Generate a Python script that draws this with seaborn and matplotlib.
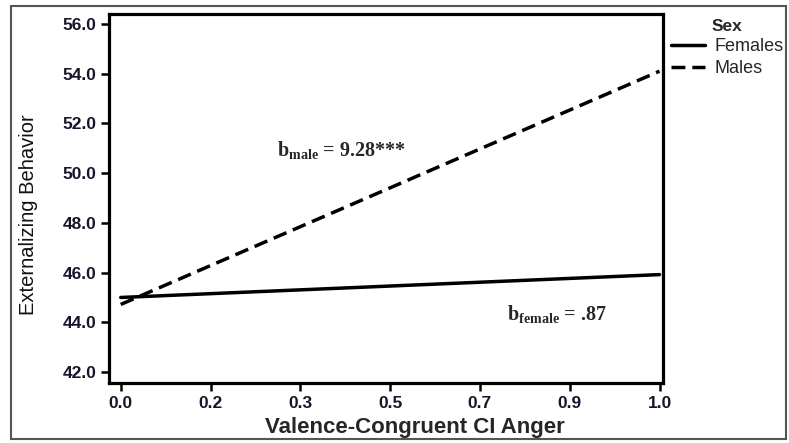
import matplotlib
matplotlib.use("Agg")
import matplotlib.pyplot as plt
import seaborn as sns
import pandas as pd
from matplotlib.patches import Rectangle

# simple slopes
anger = [0.0, 1.0]
females = [45.0, 45.92]
males = [44.72, 54.1]

xtick_pos = [0, 1/6, 2/6, 3/6, 4/6, 5/6, 1]
xtick_labels = ["0.0", "0.2", "0.3", "0.5", "0.7", "0.9", "1.0"]
ytick_pos = [42, 44, 46, 48, 50, 52, 54, 56]

df = pd.DataFrame({
    "anger": anger * 2,
    "ext": females + males,
    "Sex": ["Females"] * 2 + ["Males"] * 2,
})

sns.set_style("white")
plt.rcParams["font.family"] = ["Liberation Sans", "DejaVu Sans"]
plt.rcParams["mathtext.fontset"] = "custom"
plt.rcParams["mathtext.bf"] = "Liberation Serif:bold"
plt.rcParams["mathtext.rm"] = "Liberation Serif:bold"

fig = plt.figure(figsize=(7.89, 4.43), dpi=100)
ax = fig.add_axes([0.138, 0.1354, 0.702, 0.8330])

sns.lineplot(data=df, x="anger", y="ext", hue="Sex", style="Sex",
             palette={"Females": "black", "Males": "black"},
             dashes={"Females": "", "Males": (4, 2)},
             linewidth=2.5, ax=ax)

ax.set_xlim(-0.022, 1.006)
ax.set_ylim(41.56, 56.4)
ax.set_xticks(xtick_pos)
ax.set_xticklabels(xtick_labels)
ax.set_yticks(ytick_pos)
ax.set_yticklabels([f"{v:.1f}" for v in ytick_pos])
ax.tick_params(axis="both", direction="out", length=6, width=1.8,
               color="black", labelsize=12.5, labelcolor="#15152b", pad=3,
               bottom=True, left=True)
for lab in ax.get_xticklabels() + ax.get_yticklabels():
    lab.set_fontweight("bold")
for s in ax.spines.values():
    s.set_linewidth(2.3)
    s.set_color("black")

ax.set_xlabel("Valence-Congruent CI Anger", fontsize=16, fontweight="bold")
ax.xaxis.set_label_coords(0.552, -0.092)
ax.set_ylabel("Externalizing Behavior", fontsize=14.5, color="#111111")
ax.yaxis.set_label_coords(-0.128, 0.457)

ax.text(0.29, 50.9, r"$\mathbf{b}_{\mathbf{male}}$ = 9.28***", fontsize=14.5,
        family="Liberation Serif", fontweight="bold", va="center")
ax.text(0.716, 44.3, r"$\mathbf{b}_{\mathbf{female}}$ = .87", fontsize=14.5,
        family="Liberation Serif", fontweight="bold", va="center")

sns.move_legend(ax, "upper left", bbox_to_anchor=(1.0, 1.009), frameon=False,
                title="Sex", fontsize=13, handlelength=1.9, handletextpad=0.5,
                labelspacing=0.3, borderaxespad=0.0, borderpad=0.45)
leg = ax.get_legend()
leg.get_title().set_fontweight("bold")
leg.get_title().set_fontsize(12.5)
leg._legend_box.sep = 3
for line in leg.get_lines():
    line.set_linewidth(2.5)

fig.patches.append(Rectangle((11 / 789, 4 / 443), 775 / 789, 433 / 443,
                             transform=fig.transFigure, fill=False,
                             edgecolor="#555555", linewidth=1.5))

fig.savefig("out.png", dpi=100)
